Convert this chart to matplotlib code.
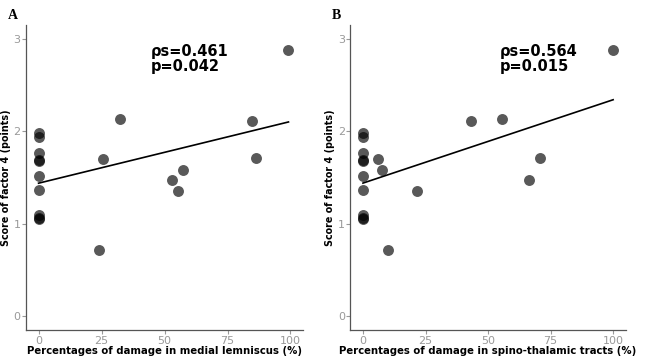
import matplotlib.pyplot as plt
import numpy as np

# scores of factor 4; the first ten cases have 0 % damage in both tracts
zero_scores = [1.98, 1.94, 1.77, 1.69, 1.68, 1.52, 1.37, 1.09, 1.06, 1.05]
other_scores = [2.13, 1.70, 0.72, 1.47, 1.58, 1.35, 2.11, 1.71, 2.88]
ml_damage = [32.2, 25.7, 24.0, 53.1, 57.2, 55.4, 84.6, 86.2, 99.2]
stt_damage = [55.4, 6.1, 10.2, 66.4, 7.5, 21.6, 43.2, 70.7, 100.0]

score = np.array(zero_scores + other_scores)
x_ml = np.array([0.0] * len(zero_scores) + ml_damage)
x_stt = np.array([0.0] * len(zero_scores) + stt_damage)

panels = [
    ('A', x_ml, 'Percentages of damage in medial lemniscus (%)', 'ρs=0.461\np=0.042', 44.5),
    ('B', x_stt, 'Percentages of damage in spino-thalamic tracts (%)', 'ρs=0.564\np=0.015', 54.5),
]
positions = [[0.040, 0.078, 0.427, 0.852], [0.540, 0.078, 0.424, 0.852]]

fig = plt.figure(figsize=(6.49, 3.58), dpi=100)
for (letter, x, xlabel, stats, tx), pos in zip(panels, positions):
    ax = fig.add_axes(pos)
    ax.scatter(x, score, s=62, color='black', alpha=0.65, linewidths=0, zorder=2)
    b, a = np.polyfit(x, score, 1)
    xs = np.array([x.min(), x.max()])
    ax.plot(xs, a + b * xs, color='black', lw=1.2, zorder=3)
    ax.text(tx, 2.94, stats, fontsize=10.5, fontweight='bold', va='top', ha='left',
            linespacing=1.0)
    ax.set_xlim(-5, 105)
    ax.set_ylim(-0.15, 3.15)
    ax.set_xticks([0, 25, 50, 75, 100])
    ax.set_yticks([0, 1, 2, 3])
    for s in ['top', 'right']:
        ax.spines[s].set_visible(False)
    for s in ['left', 'bottom']:
        ax.spines[s].set_color('#555555')
        ax.spines[s].set_linewidth(0.9)
    ax.tick_params(colors='#999999', labelcolor='#999999', labelsize=8, length=3, width=0.8, pad=1)
    ax.set_xlabel(xlabel, fontsize=7.3, fontweight='bold', labelpad=0)
    ax.set_ylabel('Score of factor 4 (points)', fontsize=6.9, fontweight='bold', labelpad=2)
    fig.text(pos[0] - 0.028, 0.975, letter, fontsize=10, fontweight='bold',
             family='Liberation Serif', va='top', ha='left')

fig.savefig('out.png', dpi=100)
